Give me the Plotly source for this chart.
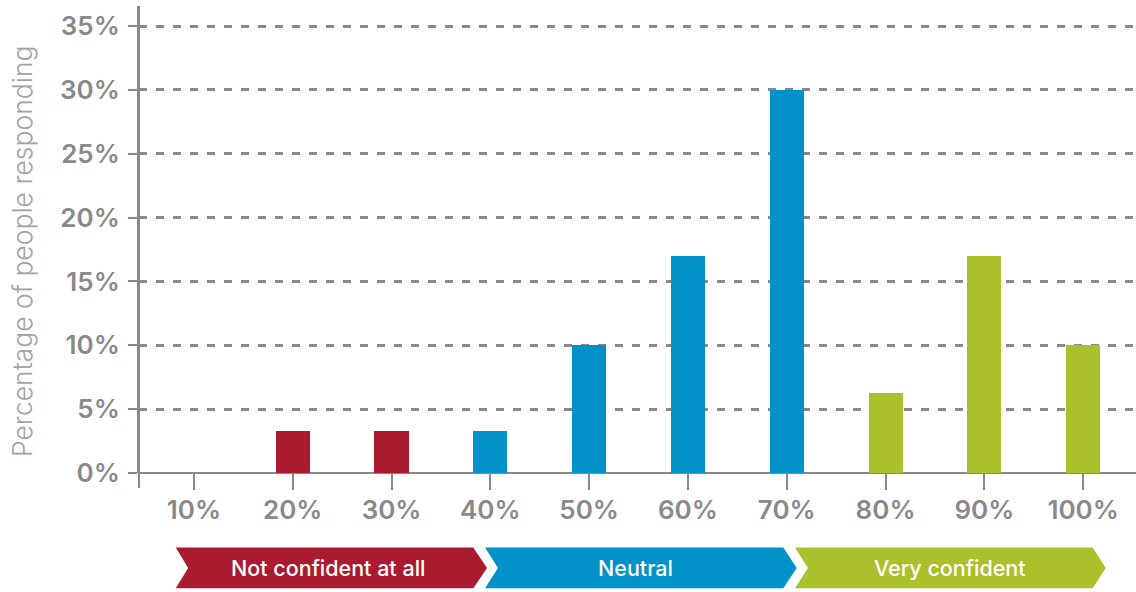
import plotly.graph_objects as go

# Confidence levels and share of respondents (%)
categories = ["10%", "20%", "30%", "40%", "50%", "60%", "70%", "80%", "90%", "100%"]
shares = [0, 3.3, 3.3, 3.3, 10, 17, 30, 6.3, 17, 10]
groups = ["Not confident at all", "Not confident at all", "Not confident at all",
          "Neutral", "Neutral", "Neutral", "Neutral",
          "Very confident", "Very confident", "Very confident"]
y_ticks = [0, 5, 10, 15, 20, 25, 30, 35]
y_tick_labels = ["0%", "5%", "10%", "15%", "20%", "25%", "30%", "35%"]

# Band labels shown under the axis
band_names = ["Not confident at all", "Neutral", "Very confident"]
band_colors = {"Not confident at all": "#AA1B30", "Neutral": "#0092C8", "Very confident": "#ACC02C"}

W, H = 1136, 592
M_L, M_R, M_T, M_B = 139, 0, 6, 119
PW, PH = W - M_L - M_R, H - M_T - M_B
GREY = "#89898c"


def px_x(x):
    return (x - M_L) / PW


def px_y(y):
    return (H - M_B - y) / PH


fig = go.Figure()
fig.add_trace(go.Bar(
    x=categories,
    y=shares,
    marker=dict(color=[band_colors[g] for g in groups], line=dict(width=0)),
    width=0.345,
    hoverinfo="x+y",
))

# Chevron banners beneath the x axis (pixel geometry of each band)
band_geom = [
    # left, notch depth, rect end, tip
    (175.7, 12.5, 473.3, 487.0),
    (485.0, 13.0, 783.3, 796.7),
    (795.0, 13.0, 1092.7, 1105.7),
]
band_text_x = [328, 635, 950]
top, bot = 547.5, 588.3
mid = (top + bot) / 2
shapes = []
annotations = []
for name, (left, notch, rend, tip), tx in zip(band_names, band_geom, band_text_x):
    pts = [(left, top), (rend, top), (tip, mid), (rend, bot), (left, bot), (left + notch, mid)]
    path = "M " + " L ".join(f"{px_x(a):.5f},{px_y(b):.5f}" for a, b in pts) + " Z"
    shapes.append(dict(type="path", xref="paper", yref="paper", path=path,
                       fillcolor=band_colors[name], line=dict(width=0), layer="above"))
    annotations.append(dict(x=px_x(tx), y=px_y(mid + 0.5), xref="paper", yref="paper",
                            text=name, showarrow=False, xanchor="center", yanchor="middle",
                            font=dict(family="Inter", size=21.5, color="white", weight=500)))

# Extend the vertical axis line just below the baseline
shapes.append(dict(type="line", xref="paper", yref="paper", x0=0, x1=0,
                   y0=px_y(488), y1=1, line=dict(color=GREY, width=2)))

# Rotated axis title
annotations.append(dict(x=px_x(22), y=px_y(252), xref="paper", yref="paper",
                        text="Percentage of people responding", showarrow=False,
                        textangle=-90, xanchor="center", yanchor="middle",
                        font=dict(family="Inter", size=26.5, color="#a3a3a6", weight=300)))

fig.update_layout(
    width=W, height=H,
    margin=dict(l=M_L, r=M_R, t=M_T, b=M_B),
    paper_bgcolor="white", plot_bgcolor="white",
    showlegend=False,
    bargap=0,
    shapes=shapes,
    annotations=annotations,
    font=dict(family="Inter", color=GREY),
)
fig.update_xaxes(
    type="category",
    range=[-0.556, 9.535],
    showgrid=False,
    showline=False,
    zeroline=False,
    ticks="outside", ticklen=16, tickwidth=2, tickcolor=GREY,
    tickfont=dict(family="Inter", size=26, color=GREY, weight=600),
    ticklabelstandoff=-2,
    fixedrange=True,
)
fig.update_yaxes(
    range=[0, 36.57],
    tickvals=y_ticks, ticktext=y_tick_labels,
    showgrid=True, gridcolor=GREY, gridwidth=2.5, griddash="8px,9px",
    zeroline=True, zerolinecolor=GREY, zerolinewidth=2,
    showline=True, linecolor=GREY, linewidth=2,
    ticks="outside", ticklen=9, tickwidth=2, tickcolor=GREY,
    tickfont=dict(family="Inter", size=26, color=GREY, weight=600),
    ticklabelstandoff=3,
    fixedrange=True,
)

fig.write_html("out.html")
